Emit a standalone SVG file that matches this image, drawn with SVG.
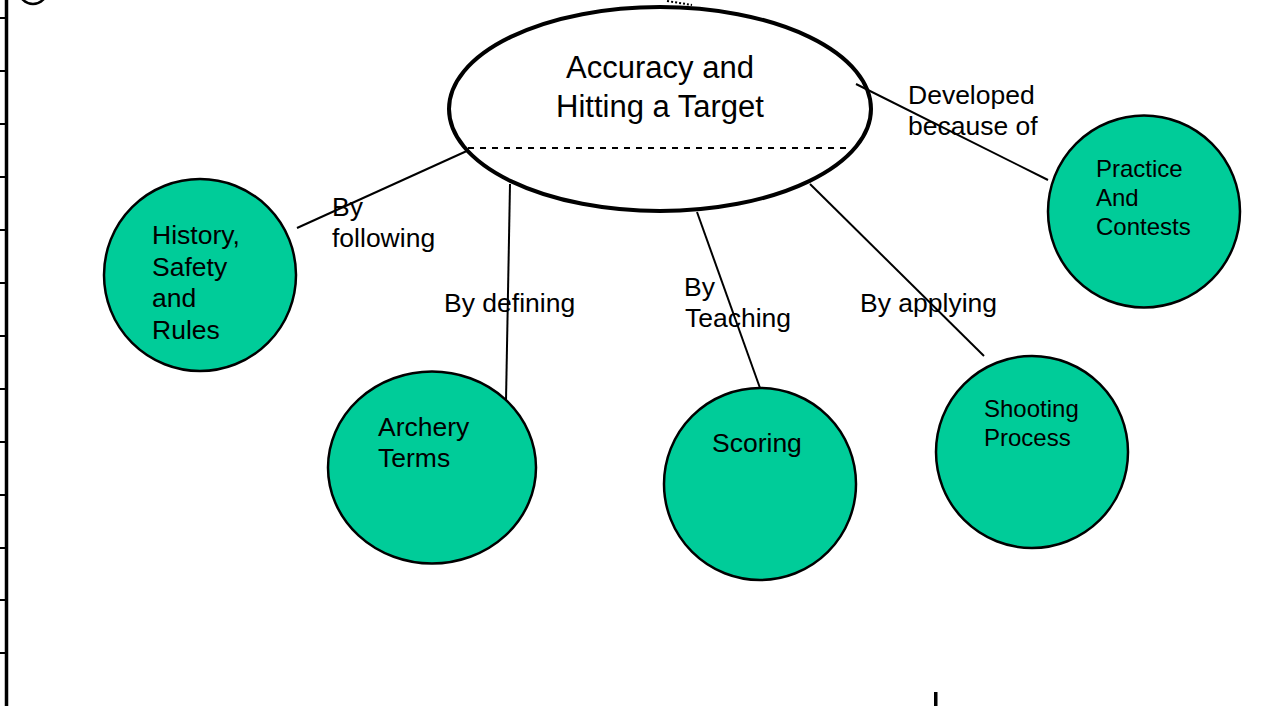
<svg xmlns="http://www.w3.org/2000/svg" width="1269" height="706" viewBox="0 0 1269 706">
<style>
.bg{fill:#ffffff}
.node{fill:#00CC99;stroke:#000;stroke-width:2.5}
.conn line{stroke:#000;stroke-width:2}
.t{font-family:"Liberation Sans",Arial,sans-serif;fill:#000}
.s26{font-size:26.5px}
.s24{font-size:24px}
.s31{font-size:31px}
.tick{stroke:#000;stroke-width:2}
</style>
<rect class="bg" x="0" y="0" width="1269" height="706"/>
<g id="frame">
<line x1="6.5" y1="0" x2="6.5" y2="706" stroke="#000" stroke-width="3.5"/>
<g class="tick">
<line x1="0" y1="18" x2="6" y2="18"/>
<line x1="0" y1="71" x2="6" y2="71"/>
<line x1="0" y1="124" x2="6" y2="124"/>
<line x1="0" y1="177" x2="6" y2="177"/>
<line x1="0" y1="230" x2="6" y2="230"/>
<line x1="0" y1="283" x2="6" y2="283"/>
<line x1="0" y1="336" x2="6" y2="336"/>
<line x1="0" y1="389" x2="6" y2="389"/>
<line x1="0" y1="442" x2="6" y2="442"/>
<line x1="0" y1="495" x2="6" y2="495"/>
<line x1="0" y1="548" x2="6" y2="548"/>
<line x1="0" y1="600" x2="6" y2="600"/>
<line x1="0" y1="653" x2="6" y2="653"/>
</g>
<circle cx="33" cy="-10" r="14" fill="none" stroke="#000" stroke-width="2.5"/>
<path d="M667 1 Q680 3 692 5" fill="none" stroke="#000" stroke-width="2" stroke-dasharray="2 2"/>
<rect x="934" y="692" width="3.5" height="14" fill="#000"/>
</g>
<g id="center">
<ellipse cx="660" cy="109" rx="211" ry="102" fill="#fff" stroke="#000" stroke-width="4"/>
<line x1="468" y1="148" x2="846" y2="148" stroke="#000" stroke-width="2" stroke-dasharray="6 6"/>
<text class="t s31" x="660" y="78" text-anchor="middle">Accuracy and</text>
<text class="t s31" x="660" y="117" text-anchor="middle">Hitting a Target</text>
</g>
<g id="connectors" class="conn">
<line x1="469" y1="150" x2="297" y2="228"/>
<line x1="510" y1="184" x2="506" y2="401"/>
<line x1="697" y1="212" x2="760" y2="388"/>
<line x1="810" y1="184" x2="984" y2="356"/>
<line x1="856" y1="84" x2="1048" y2="180"/>
</g>
<g id="history">
<circle class="node" cx="200" cy="275" r="96"/>
<text class="t s26" x="152" y="244">History,</text>
<text class="t s26" x="152" y="276">Safety</text>
<text class="t s26" x="152" y="307">and</text>
<text class="t s26" x="152" y="339">Rules</text>
</g>
<g id="archery">
<ellipse class="node" cx="432" cy="467.5" rx="104" ry="96"/>
<text class="t s26" x="378" y="436">Archery</text>
<text class="t s26" x="378" y="467">Terms</text>
</g>
<g id="scoring">
<circle class="node" cx="760" cy="484" r="96"/>
<text class="t s26" x="712" y="452">Scoring</text>
</g>
<g id="shooting">
<circle class="node" cx="1032" cy="452" r="96"/>
<text class="t s24" x="984" y="417">Shooting</text>
<text class="t s24" x="984" y="446">Process</text>
</g>
<g id="practice">
<circle class="node" cx="1144" cy="211.5" r="96"/>
<text class="t s24" x="1096" y="177">Practice</text>
<text class="t s24" x="1096" y="206">And</text>
<text class="t s24" x="1096" y="235">Contests</text>
</g>
<g id="labels">
<text class="t s26" x="332" y="216">By</text>
<text class="t s26" x="332" y="247">following</text>
<text class="t s26" x="444" y="312">By defining</text>
<text class="t s26" x="684" y="296">By</text>
<text class="t s26" x="685" y="327">Teaching</text>
<text class="t s26" x="860" y="312">By applying</text>
<text class="t s26" x="908" y="104">Developed</text>
<text class="t s26" x="908" y="135">because of</text>
</g>
</svg>
